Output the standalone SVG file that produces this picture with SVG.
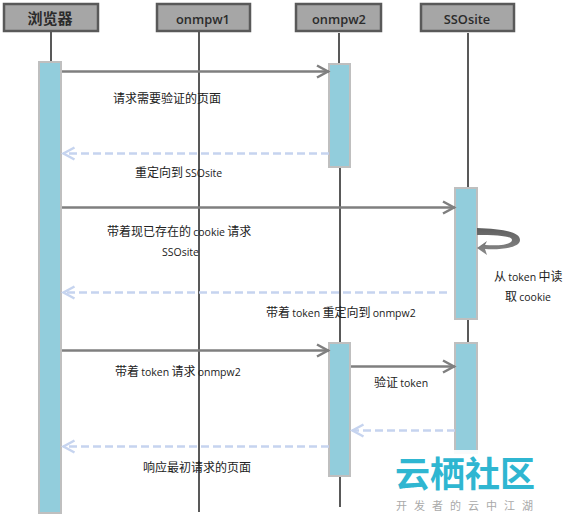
<svg xmlns="http://www.w3.org/2000/svg" width="568" height="516" viewBox="0 0 568 516">
<defs>
<style>
text{font-family:"Open Sans","Noto Sans CJK SC",sans-serif;font-size:10.500px;fill:#222;word-spacing:-0.500px}
.cjk{font-family:"Noto Sans CJK SC",sans-serif;font-size:12px}
.head{fill:#a6a6a6;stroke:#595959;stroke-width:2.5}
.ht{font-size:12.800px;font-weight:600;text-anchor:middle;fill:#2b2b2b}
.life{stroke:#595959;stroke-width:2;fill:none}
.act{fill:#92cddc;stroke:#bfbfbf;stroke-width:2}
.msg{stroke:#7f7f7f;stroke-width:2.5;fill:none}
.ret{stroke:#c6d4ef;stroke-width:2.5;fill:none;stroke-dasharray:8 4}
.ahs{stroke:#7f7f7f;stroke-width:2.5;fill:none}
.ahr{stroke:#c6d4ef;stroke-width:2.5;fill:none}
</style>
<marker id="solid" markerUnits="userSpaceOnUse" markerWidth="16" markerHeight="16" refX="13.500" refY="8" orient="auto"><path class="ahs" d="M1.500 2L12.500 8L1.500 14"/></marker>
<marker id="dash" markerUnits="userSpaceOnUse" markerWidth="16" markerHeight="16" refX="13" refY="8" orient="auto"><path class="ahr" d="M1.500 2L12.500 8L1.500 14"/></marker>
<linearGradient id="loop" x1="0" y1="0" x2="0" y2="1"><stop offset="0" stop-color="#5f5f5f"/><stop offset="1" stop-color="#8a8a8a"/></linearGradient>
</defs>
<g id="lifelines">
<path class="life" d="M51 32V62M199 32V512M339 33V63M340 167V507M468 33V187M468 319V343"/>
</g>
<g id="node-browser"><rect class="head" x="4" y="4" width="94" height="27"/><text class="ht" x="50" y="24" style="font-family:'Noto Sans CJK SC',sans-serif;font-size:15px;font-weight:700">浏览器</text></g>
<g id="node-onmpw1"><rect class="head" x="157" y="4" width="93" height="27"/><text class="ht" x="203" y="24">onmpw1</text></g>
<g id="node-onmpw2"><rect class="head" x="296" y="4" width="85" height="27"/><text class="ht" x="339" y="24">onmpw2</text></g>
<g id="node-ssosite"><rect class="head" x="421" y="4" width="93" height="27"/><text class="ht" x="467" y="24">SSOsite</text></g>
<g id="activations">
<rect class="act" x="39" y="62" width="22" height="451"/>
<rect class="act" x="329" y="64" width="21" height="103"/>
<rect class="act" x="329" y="343" width="21" height="133"/>
<rect class="act" x="455" y="188" width="22" height="131"/>
<rect class="act" x="455" y="343" width="22" height="110"/>
</g>
<g id="connectors">
<path class="msg" d="M62 71.500H329" marker-end="url(#solid)"/>
<path class="ret" d="M329 153.500H63" marker-end="url(#dash)"/>
<path class="msg" d="M62 207.500H455" marker-end="url(#solid)"/>
<path class="ret" d="M447 292.500H63" marker-end="url(#dash)"/>
<path class="msg" d="M62 350.500H329" marker-end="url(#solid)"/>
<path class="msg" d="M351 366.500H455" marker-end="url(#solid)"/>
<path class="ret" d="M455 430.500H352" marker-end="url(#dash)"/>
<path class="ret" d="M329 446.500H63" marker-end="url(#dash)"/>
<path d="M477 228C500 229 520 231 520 240C520 248 500 250 485 249L487 255L477 248L487 241L485 245C502 246 512 244 512 240C512 236 497 235 477 235Z" fill="url(#loop)"/>
</g>
<g id="labels">
<text class="cjk" x="113" y="103">请求需要验证的页面</text>
<text x="135" y="177"><tspan class="cjk">重定向到</tspan> SSOsite</text>
<text x="107" y="236"><tspan class="cjk">带着现已存在的</tspan> cookie <tspan class="cjk">请求</tspan></text>
<text x="162" y="256">SSOsite</text>
<text x="494" y="281"><tspan class="cjk">从</tspan> token <tspan class="cjk">中读</tspan></text>
<text x="505" y="301"><tspan class="cjk">取</tspan> cookie</text>
<text x="266" y="317"><tspan class="cjk">带着</tspan> token <tspan class="cjk">重定向到</tspan> onmpw2</text>
<text x="115" y="376"><tspan class="cjk">带着</tspan> token <tspan class="cjk">请求</tspan> onmpw2</text>
<text x="374" y="387"><tspan class="cjk">验证</tspan> token</text>
<text class="cjk" x="143" y="472">响应最初请求的页面</text>
</g>
<g id="watermark">
<rect x="360" y="450" width="208" height="66" fill="#fff" opacity="0.92"/>
<text x="395" y="487" style="font-family:'Noto Sans CJK SC',sans-serif;font-size:35px;font-weight:700;fill:#2fb6d1">云栖社区</text>
<text x="396" y="510" style="font-family:'Noto Sans CJK SC',sans-serif;font-size:11px;letter-spacing:7px;fill:#a9a9a9">开发者的云中江湖</text>
</g>
</svg>
